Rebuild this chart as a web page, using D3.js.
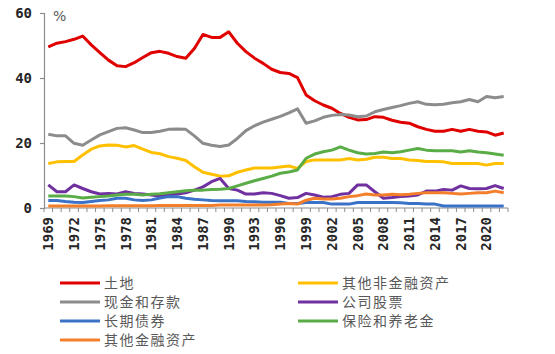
<!DOCTYPE html>
<html lang="zh">
<head>
<meta charset="UTF-8">
<title>资产构成</title>
<script src="https://d3js.org/d3.v7.min.js"></script>
<style>
  html, body { margin: 0; padding: 0; background: #fff; }
  svg { display: block; }
  .tick-label { font-family: "DejaVu Sans Mono", monospace; font-size: 14px; fill: #262626; font-weight: bold; }
  .legend-text { font-family: "Noto Sans CJK SC", sans-serif; font-size: 14px; letter-spacing: 1.5px; fill: #595959; }
</style>
</head>
<body>
<div id="chart"></div>
<script>
// categories
const years = d3.range(1969, 2023);
const tickYears = [1969, 1972, 1975, 1978, 1981, 1984, 1987, 1990, 1993, 1996, 1999, 2002, 2005, 2008, 2011, 2014, 2017, 2020];
const yTicks = [0, 20, 40, 60];

// series values (%), 1969–2022
const land = [49.6, 50.7, 51.2, 51.9, 52.9, 50.2, 47.8, 45.5, 43.8, 43.5, 44.7, 46.3, 47.8, 48.2, 47.6, 46.6, 46.1, 49.1, 53.4, 52.5, 52.5, 54.2, 50.7, 48.1, 46.1, 44.5, 42.7, 41.7, 41.4, 40.1, 34.8, 33.0, 31.7, 30.7, 29.1, 27.9, 27.1, 27.2, 28.1, 27.9, 27.0, 26.4, 26.1, 25.0, 24.2, 23.6, 23.6, 24.2, 23.6, 24.2, 23.6, 23.4, 22.4, 23.1];
const otherNonFin = [13.7, 14.2, 14.3, 14.3, 16.3, 18.1, 19.1, 19.4, 19.3, 18.8, 19.2, 18.1, 17.1, 16.7, 15.8, 15.3, 14.6, 12.7, 11.0, 10.4, 9.8, 9.9, 11.0, 11.7, 12.3, 12.3, 12.3, 12.6, 12.9, 12.2, 14.3, 14.8, 14.8, 14.8, 14.8, 15.2, 14.8, 15.0, 15.6, 15.6, 15.2, 15.2, 14.8, 14.6, 14.3, 14.3, 14.2, 13.7, 13.7, 13.7, 13.7, 13.2, 13.7, 13.7];
const cash = [22.7, 22.2, 22.2, 19.9, 19.3, 20.9, 22.5, 23.5, 24.5, 24.7, 24.0, 23.2, 23.2, 23.6, 24.2, 24.3, 24.2, 22.2, 19.9, 19.3, 18.9, 19.4, 21.4, 23.8, 25.3, 26.4, 27.3, 28.2, 29.3, 30.5, 26.1, 26.8, 27.9, 28.5, 28.8, 28.6, 28.1, 28.3, 29.6, 30.3, 30.9, 31.5, 32.2, 32.7, 31.9, 31.8, 31.9, 32.4, 32.7, 33.4, 32.7, 34.3, 33.9, 34.3];
const equity = [7.1, 5.0, 5.0, 7.1, 6.0, 5.0, 4.3, 4.5, 4.3, 5.0, 4.5, 4.3, 4.0, 3.6, 4.0, 4.3, 4.7, 5.5, 6.5, 8.1, 9.1, 6.0, 5.5, 4.3, 4.3, 4.7, 4.5, 3.8, 3.0, 3.2, 4.5, 4.0, 3.3, 3.5, 4.2, 4.5, 7.1, 7.1, 5.0, 3.0, 3.2, 3.5, 3.7, 4.0, 5.2, 5.2, 5.7, 5.5, 6.8, 6.0, 5.9, 6.0, 6.9, 6.0];
const bonds = [2.3, 2.3, 2.0, 1.8, 1.7, 2.0, 2.3, 2.5, 3.0, 3.0, 2.5, 2.3, 2.5, 3.1, 3.5, 3.5, 3.0, 2.7, 2.5, 2.3, 2.2, 2.2, 2.2, 2.0, 1.9, 1.8, 1.8, 1.8, 1.4, 1.4, 1.7, 1.7, 1.7, 1.2, 1.2, 1.2, 1.7, 1.7, 1.7, 1.7, 1.7, 1.6, 1.4, 1.4, 1.2, 1.2, 0.6, 0.6, 0.6, 0.6, 0.6, 0.6, 0.6, 0.6];
const pension = [3.7, 3.7, 3.7, 3.5, 3.1, 3.3, 3.5, 3.7, 4.0, 4.2, 4.2, 4.0, 4.2, 4.4, 4.7, 5.0, 5.3, 5.5, 5.5, 5.7, 5.8, 6.0, 6.8, 7.6, 8.4, 9.1, 9.8, 10.7, 11.1, 11.7, 15.3, 16.6, 17.3, 17.8, 18.8, 17.8, 17.0, 16.6, 16.8, 17.2, 17.0, 17.3, 17.8, 18.3, 17.8, 17.6, 17.6, 17.6, 17.2, 17.6, 17.2, 17.0, 16.6, 16.2];
const otherFin = [0.6, 0.6, 0.6, 0.6, 0.6, 0.6, 0.6, 0.7, 0.7, 0.7, 0.7, 0.7, 0.7, 0.8, 0.8, 0.8, 0.8, 0.8, 0.8, 0.8, 0.9, 0.9, 0.9, 0.9, 0.9, 0.9, 1.0, 1.2, 1.4, 1.2, 2.4, 3.0, 2.8, 2.8, 3.0, 3.5, 3.8, 4.3, 4.0, 4.0, 4.2, 4.1, 4.2, 4.5, 4.7, 4.7, 4.7, 4.5, 4.3, 4.5, 4.7, 4.7, 5.2, 4.7];

const seriesNames = ["土地", "其他非金融资产", "现金和存款", "公司股票", "长期债券", "保险和养老金", "其他金融资产"];
const seriesValues = [land, otherNonFin, cash, equity, bonds, pension, otherFin];
const seriesColors = ["#e00000", "#ffc000", "#8c8c8c", "#7030a0", "#3a72c8", "#5aad46", "#f47f2a"];

const width = 555, height = 354;
const margin = { top: 13, left: 44, right: 47, bottom: 146 };

const svg = d3.select("#chart").append("svg")
  .attr("width", width)
  .attr("height", height);

const x = d3.scaleBand()
  .domain(years)
  .range([margin.left, width - margin.right]);

const y = d3.scaleLinear()
  .domain([0, 60])
  .range([height - margin.bottom, margin.top]);

const axisColor = "#8c8c8c";

// y axis
const yAxis = svg.append("g")
  .attr("transform", `translate(${margin.left},0)`)
  .call(d3.axisLeft(y).tickValues(yTicks).tickSize(4).tickPadding(8));
yAxis.select(".domain").attr("stroke", axisColor).attr("stroke-width", 1.2);
yAxis.selectAll(".tick line").attr("stroke", axisColor).attr("stroke-width", 1.2);
yAxis.selectAll(".tick text").attr("class", "tick-label").attr("font-family", null).attr("font-size", null);

// unit
svg.append("text")
  .attr("x", margin.left + 9)
  .attr("y", margin.top + 8)
  .attr("class", "legend-text")
  .style("font-family", "'DejaVu Sans', sans-serif")
  .style("font-size", "14px")
  .style("letter-spacing", "0")
  .text("%");

// x axis: ticks between categories, labels every 3 years
const x0 = y(0);
svg.append("line")
  .attr("x1", margin.left).attr("x2", width - margin.right)
  .attr("y1", x0).attr("y2", x0)
  .attr("stroke", axisColor).attr("stroke-width", 1.2);

svg.append("g").selectAll("line")
  .data(years.concat([years[years.length - 1] + 1]))
  .join("line")
  .attr("x1", (d, i) => i < years.length ? x(d) : x(years[years.length - 1]) + x.bandwidth())
  .attr("x2", (d, i) => i < years.length ? x(d) : x(years[years.length - 1]) + x.bandwidth())
  .attr("y1", x0).attr("y2", x0 + 4)
  .attr("stroke", axisColor).attr("stroke-width", 1);

svg.append("g").selectAll("text")
  .data(tickYears)
  .join("text")
  .attr("class", "tick-label")
  .attr("transform", d => `translate(${x(d) + x.bandwidth() / 2},${x0 + 9}) rotate(-90)`)
  .attr("text-anchor", "end")
  .attr("dy", "0.35em")
  .text(d => d);

// lines
const line = d3.line()
  .x((d, i) => x(years[i]) + x.bandwidth() / 2)
  .y(d => y(d));

svg.append("g").selectAll("path")
  .data(seriesValues)
  .join("path")
  .attr("d", line)
  .attr("fill", "none")
  .attr("stroke", (d, i) => seriesColors[i])
  .attr("stroke-width", 3)
  .attr("stroke-linejoin", "round");

// legend, two columns
const legend = svg.append("g").selectAll("g")
  .data(seriesNames)
  .join("g")
  .attr("transform", (d, i) => `translate(${i % 2 === 0 ? 60 : 298},${283 + Math.floor(i / 2) * 19})`);

legend.append("line")
  .attr("x1", 0).attr("x2", 40)
  .attr("stroke", (d, i) => seriesColors[i])
  .attr("stroke-width", 3);

legend.append("text")
  .attr("class", "legend-text")
  .attr("x", 44)
  .attr("dy", "0.35em")
  .text(d => d);
</script>
</body>
</html>
